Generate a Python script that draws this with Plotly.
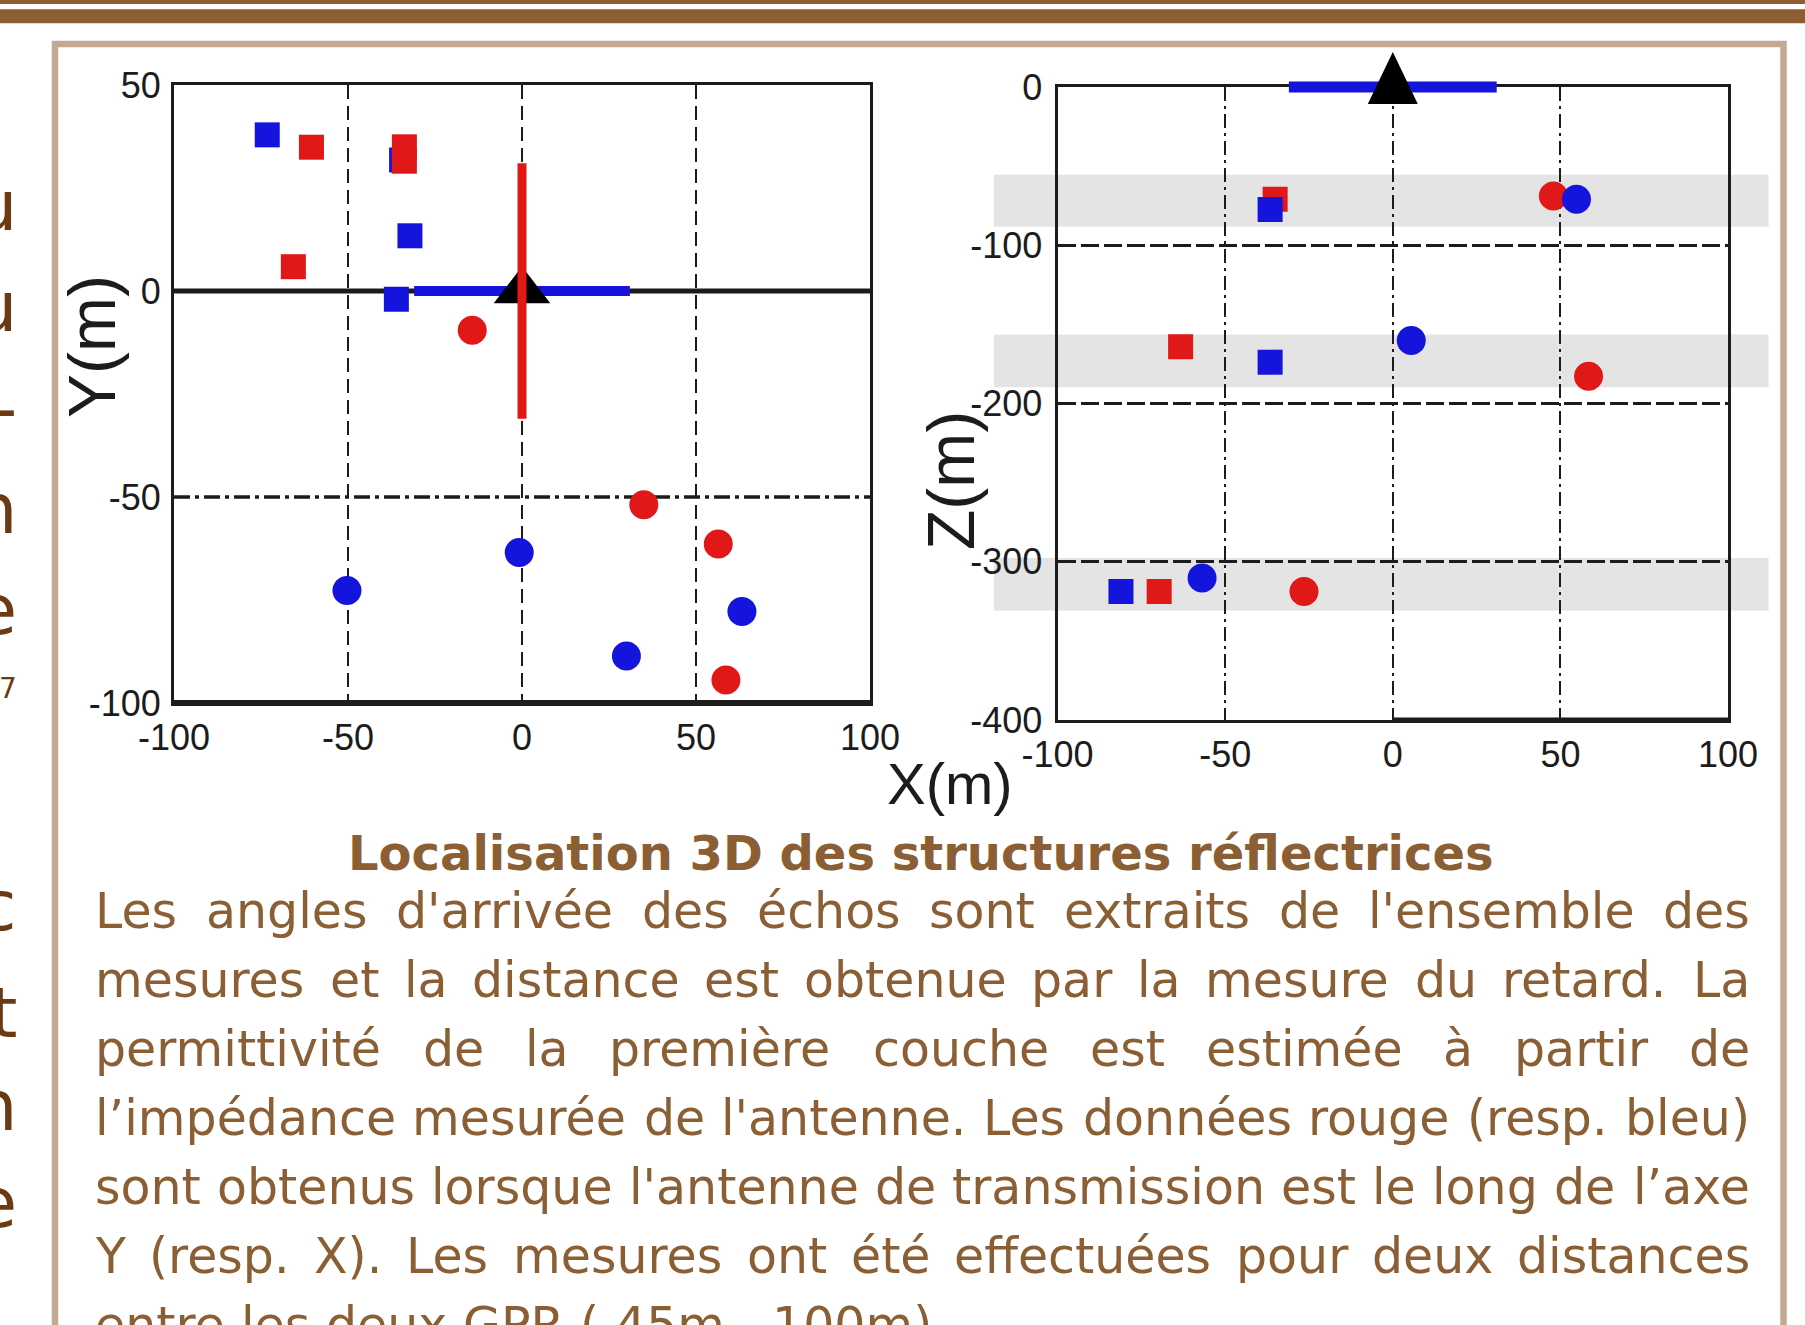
import plotly.graph_objects as go

FIG_W, FIG_H = 1805, 1325

# ---- plan view (X-Y), metres ----
XY_RED_SQ_X = [-60.5, -33.8, -33.8, -65.7]
XY_RED_SQ_Y = [34.9, 35.0, 31.5, 5.9]
XY_BLUE_SQ_X = [-73.2, -34.6, -32.2, -36.1]
XY_BLUE_SQ_Y = [37.9, 31.8, 13.4, -2.0]
XY_RED_CI_X = [-14.3, 35.0, 56.4, 58.6]
XY_RED_CI_Y = [-9.5, -51.9, -61.4, -94.4]
XY_BLUE_CI_X = [-50.3, -0.8, 63.2, 30.0]
XY_BLUE_CI_Y = [-72.7, -63.5, -77.8, -88.6]

# ---- vertical section (X-Z), metres ----
XZ_RED_SQ_X = [-35.1, -63.3, -69.7]
XZ_RED_SQ_Z = [-71.0, -164.2, -318.8]
XZ_BLUE_SQ_X = [-36.6, -36.6, -81.1]
XZ_BLUE_SQ_Z = [-77.4, -173.9, -318.8]
XZ_RED_CI_X = [47.9, 58.4, -26.5]
XZ_RED_CI_Z = [-68.9, -182.8, -318.8]
XZ_BLUE_CI_X = [54.8, 5.5, -56.9]
XZ_BLUE_CI_Z = [-71.0, -160.2, -310.3]

# reflector depth layers (top, bottom), metres
LAYERS_Z = [(-55.4, -88.3), (-156.4, -189.7), (-297.7, -330.8)]

ANTENNA_HALF = 31  # half length of each antenna arm, metres
ANTENNA_X = 0      # antenna centre along X, metres

X_TICKS = [-100, -50, 0, 50, 100]
Y_TICKS = [-100, -50, 0, 50]
Z_TICKS = [-400, -300, -200, -100, 0]

CAPTION_TITLE = "Localisation 3D des structures réflectrices"
PARAGRAPH_LINES = [
    "Les angles d'arrivée des échos sont extraits de l'ensemble des",
    "mesures et la distance est obtenue par la mesure du retard. La",
    "permittivité de la première couche est estimée à partir de",
    "l’impédance mesurée de l'antenne. Les données rouge (resp. bleu)",
    "sont obtenus lorsque l'antenne de transmission est le long de l’axe",
    "Y (resp. X). Les mesures ont été effectuées pour deux distances",
    "entre les deux GPR ( 45m , 100m).",
]
# line endings of the neighbouring column (upper block, lower block)
SIDE_LETTERS_UP = ["u", "u", "-", "n", "e"]
SIDE_LETTERS_LOW = ["c", "t", "n", "e"]

RED = "#e01818"
BLUE = "#1414dc"
INK = "#1c1c1c"
BROWN = "#8b5e34"
DARK_BROWN = "#6b3a12"
TAN = "#c3a98f"
BAND = "#e4e4e4"

TICK_FONT = dict(family="Liberation Sans Narrow, Arial Narrow, Liberation Sans, Arial",
                 size=36, color=INK)
TITLE_FONT = dict(family="Liberation Sans, Arial", size=58, color=INK)
VTITLE_FONT = dict(family="Liberation Sans, Arial", size=66, color=INK)

# subplot placement (pixels)
P1_X, P1_Y = (174, 870), (85, 703)
P2_X, P2_Y = (1057.6, 1728), (87, 720)


def px(x):
    return x / FIG_W


def py(y):
    return 1 - y / FIG_H


def tick_text(vals):
    return [str(v) for v in vals]


fig = go.Figure()

# ---------- plan view ----------
fig.add_trace(go.Scatter(x=[ANTENNA_X - ANTENNA_HALF, ANTENNA_X + ANTENNA_HALF], y=[0, 0],
                         mode="lines", line=dict(color=BLUE, width=10),
                         xaxis="x", yaxis="y", cliponaxis=False))
fig.add_trace(go.Scatter(x=[ANTENNA_X], y=[0], mode="markers",
                         marker=dict(symbol="triangle-up", size=49, color="black"),
                         xaxis="x", yaxis="y", cliponaxis=False))
fig.add_trace(go.Scatter(x=[ANTENNA_X, ANTENNA_X], y=[-ANTENNA_HALF, ANTENNA_HALF],
                         mode="lines", line=dict(color=RED, width=9),
                         xaxis="x", yaxis="y"))
for xs, ys, sym, col, size in [
    (XY_BLUE_SQ_X, XY_BLUE_SQ_Y, "square", BLUE, 25),
    (XY_RED_SQ_X, XY_RED_SQ_Y, "square", RED, 25),
    (XY_BLUE_CI_X, XY_BLUE_CI_Y, "circle", BLUE, 29),
    (XY_RED_CI_X, XY_RED_CI_Y, "circle", RED, 29),
]:
    fig.add_trace(go.Scatter(x=xs, y=ys, mode="markers",
                             marker=dict(symbol=sym, size=size, color=col, line_width=0),
                             xaxis="x", yaxis="y"))

# ---------- vertical section ----------
for xs, zs, sym, col, size in [
    (XZ_RED_SQ_X, XZ_RED_SQ_Z, "square", RED, 25),
    (XZ_BLUE_SQ_X, XZ_BLUE_SQ_Z, "square", BLUE, 25),
    (XZ_RED_CI_X, XZ_RED_CI_Z, "circle", RED, 29),
    (XZ_BLUE_CI_X, XZ_BLUE_CI_Z, "circle", BLUE, 29),
]:
    fig.add_trace(go.Scatter(x=xs, y=zs, mode="markers",
                             marker=dict(symbol=sym, size=size, color=col, line_width=0),
                             xaxis="x2", yaxis="y2"))

axis_common = dict(showline=True, mirror=True, linecolor=INK, linewidth=3,
                   zeroline=False, ticks="", tickfont=TICK_FONT, fixedrange=True,
                   automargin=False)

fig.update_layout(
    width=FIG_W, height=FIG_H, autosize=False,
    margin=dict(l=0, r=0, t=0, b=0, pad=0, autoexpand=False),
    paper_bgcolor="white", plot_bgcolor="rgba(0,0,0,0)",
    showlegend=False,
    xaxis=dict(domain=[px(P1_X[0]), px(P1_X[1])], range=[-100, 100], anchor="y",
               tickvals=X_TICKS, ticktext=tick_text(X_TICKS), ticklabelstandoff=1,
               showgrid=True, gridcolor=INK, gridwidth=2,
               griddash="14px,7px", **axis_common),
    yaxis=dict(domain=[py(P1_Y[1]), py(P1_Y[0])], range=[-100, 50], anchor="x",
               tickvals=Y_TICKS, ticktext=tick_text(Y_TICKS), ticklabelstandoff=3,
               showgrid=False, **axis_common),
    xaxis2=dict(domain=[px(P2_X[0]), px(P2_X[1])], range=[-100, 100], anchor="y2",
                tickvals=X_TICKS, ticktext=tick_text(X_TICKS), ticklabelstandoff=1,
                showgrid=True, gridcolor=INK, gridwidth=2,
                griddash="14px,5px,3px,5px", **axis_common),
    yaxis2=dict(domain=[py(P2_Y[1]), py(P2_Y[0])], range=[-400, 0], anchor="x2",
                tickvals=Z_TICKS, ticktext=tick_text(Z_TICKS), ticklabelstandoff=5,
                showgrid=True, gridcolor=INK, gridwidth=3,
                griddash="18px,5px", **axis_common),
)

shapes = []
# poster header bands
shapes.append(dict(type="rect", xref="paper", yref="paper", x0=0, x1=1,
                   y0=py(4), y1=py(0), fillcolor=BROWN, line_width=0, layer="below"))
shapes.append(dict(type="rect", xref="paper", yref="paper", x0=0, x1=1,
                   y0=py(23.3), y1=py(9.3), fillcolor=BROWN, line_width=0, layer="below"))
# panel frame
shapes.append(dict(type="rect", xref="paper", yref="paper", x0=px(55), x1=px(1783.5),
                   y0=py(FIG_H + 20), y1=py(44), line=dict(color=TAN, width=6.5),
                   fillcolor="rgba(0,0,0,0)", layer="below"))
# depth layers in the section view
for z_top, z_bot in LAYERS_Z:
    shapes.append(dict(type="rect", xref="paper", yref="y2", x0=px(994), x1=px(1768.6),
                       y0=z_bot, y1=z_top, fillcolor=BAND, line_width=0, layer="below"))
# plan view reference lines: Y = 0 and Y = -50
shapes.append(dict(type="line", xref="x domain", yref="y", x0=0, x1=1, y0=0, y1=0,
                   line=dict(color=INK, width=5), layer="below"))
shapes.append(dict(type="line", xref="x domain", yref="y", x0=0, x1=1, y0=-50, y1=-50,
                   line=dict(color=INK, width=3.5, dash="16px,5px,4px,5px"), layer="below"))
# heavier bottom edges
shapes.append(dict(type="line", xref="x domain", yref="y", x0=0, x1=1, y0=-100, y1=-100,
                   line=dict(color=INK, width=6)))
shapes.append(dict(type="line", xref="x2", yref="y2", x0=0, x1=100, y0=-400, y1=-400,
                   line=dict(color=INK, width=5)))
# antenna arm lying on the surface (Z = 0, top edge of the section view)
shapes.append(dict(type="line", xref="x2", yref="paper",
                   x0=ANTENNA_X - ANTENNA_HALF, x1=ANTENNA_X + ANTENNA_HALF,
                   y0=py(P2_Y[0]), y1=py(P2_Y[0]),
                   line=dict(color=BLUE, width=11), layer="above"))
# antenna glyph (pixel-sized, anchored at the antenna position)
shapes.append(dict(type="path", xref="x2", yref="paper",
                   xsizemode="pixel", ysizemode="pixel",
                   xanchor=ANTENNA_X, yanchor=py(P2_Y[0]),
                   path="M-25,-17 L25,-17 L0,35 Z",
                   fillcolor="black", line_width=0, layer="above"))
fig.update_layout(shapes=shapes)

ann = []
# axis titles
ann.append(dict(text="X(m)", x=px(950), y=py(783), xref="paper", yref="paper",
                showarrow=False, font=TITLE_FONT, xanchor="center", yanchor="middle"))
ann.append(dict(text="Y(m)", x=px(92), y=py(347), xref="paper", yref="paper",
                showarrow=False, font=VTITLE_FONT, textangle=-90,
                xanchor="center", yanchor="middle"))
ann.append(dict(text="Z(m)", x=px(951), y=py(481), xref="paper", yref="paper",
                showarrow=False, font=VTITLE_FONT, textangle=-90,
                xanchor="center", yanchor="middle"))

# caption title
ann.append(dict(text="<b>" + CAPTION_TITLE + "</b>", x=px(921), y=py(853),
                xref="paper", yref="paper", showarrow=False,
                font=dict(family="DejaVu Sans", size=48, color=BROWN),
                xanchor="center", yanchor="middle", borderpad=0, borderwidth=0))

# justified paragraph, laid out word by word with DejaVu Sans advance widths
ADV = {' ': 651, "'": 563, '’': 651, '(': 799, ')': 799, ',': 651, '.': 651,
       'G': 1587, 'P': 1235, 'R': 1423, 'L': 1141, 'Y': 1251, 'X': 1403,
       'a': 1255, 'b': 1300, 'c': 1126, 'd': 1300, 'e': 1260, 'f': 721, 'g': 1300,
       'h': 1298, 'i': 569, 'l': 569, 'm': 1995, 'n': 1298, 'o': 1253, 'p': 1300,
       'q': 1300, 'r': 842, 's': 1067, 't': 803, 'u': 1298, 'v': 1212, 'x': 1212,
       'y': 1212, 'é': 1260, 'è': 1260, 'à': 1255}
for d in "0123456789":
    ADV[d] = 1303

P_SIZE = 49
P_LEFT, P_RIGHT = 95, 1750
P_FIRST_BASELINE, P_LEAD = 928, 69


def adv(s):
    return sum(ADV.get(c, 1200) for c in s) * P_SIZE / 2048


para_font = dict(family="DejaVu Sans", size=P_SIZE, color=BROWN)
for i, line in enumerate(PARAGRAPH_LINES):
    words = line.split()
    yc = P_FIRST_BASELINE + i * P_LEAD - 0.346 * P_SIZE
    last = i == len(PARAGRAPH_LINES) - 1
    if last:
        gap = adv(" ")
    else:
        gap = (P_RIGHT - P_LEFT - sum(adv(w) for w in words)) / (len(words) - 1)
    xpos = P_LEFT
    for j, w in enumerate(words):
        if not last and j == len(words) - 1:
            ann.append(dict(text=w, x=px(P_RIGHT), y=py(yc), xref="paper", yref="paper",
                            showarrow=False, font=para_font, xanchor="right",
                            yanchor="middle", borderpad=0, borderwidth=0))
        else:
            ann.append(dict(text=w, x=px(xpos), y=py(yc), xref="paper", yref="paper",
                            showarrow=False, font=para_font, xanchor="left",
                            yanchor="middle", borderpad=0, borderwidth=0))
        xpos += adv(w) + gap

# line endings of the neighbouring text column
side_font = dict(family="DejaVu Sans", size=70, color=DARK_BROWN)
for letter, base in zip(SIDE_LETTERS_UP, [230, 331, 432, 533, 634]):
    ann.append(dict(text=letter, x=px(17), y=py(base - 24), xref="paper", yref="paper",
                    showarrow=False, font=side_font, xanchor="right", yanchor="middle",
                    borderpad=0, borderwidth=0))
ann.append(dict(text="7", x=px(17), y=py(688), xref="paper", yref="paper",
                showarrow=False, font=dict(family="DejaVu Sans", size=28, color=DARK_BROWN),
                xanchor="right", yanchor="middle", borderpad=0, borderwidth=0))
for letter, base in zip(SIDE_LETTERS_LOW, [930, 1037, 1130, 1227]):
    ann.append(dict(text=letter, x=px(17), y=py(base - 24), xref="paper", yref="paper",
                    showarrow=False, font=side_font, xanchor="right", yanchor="middle",
                    borderpad=0, borderwidth=0))

fig.update_layout(annotations=ann)
fig.write_html("out.html")
